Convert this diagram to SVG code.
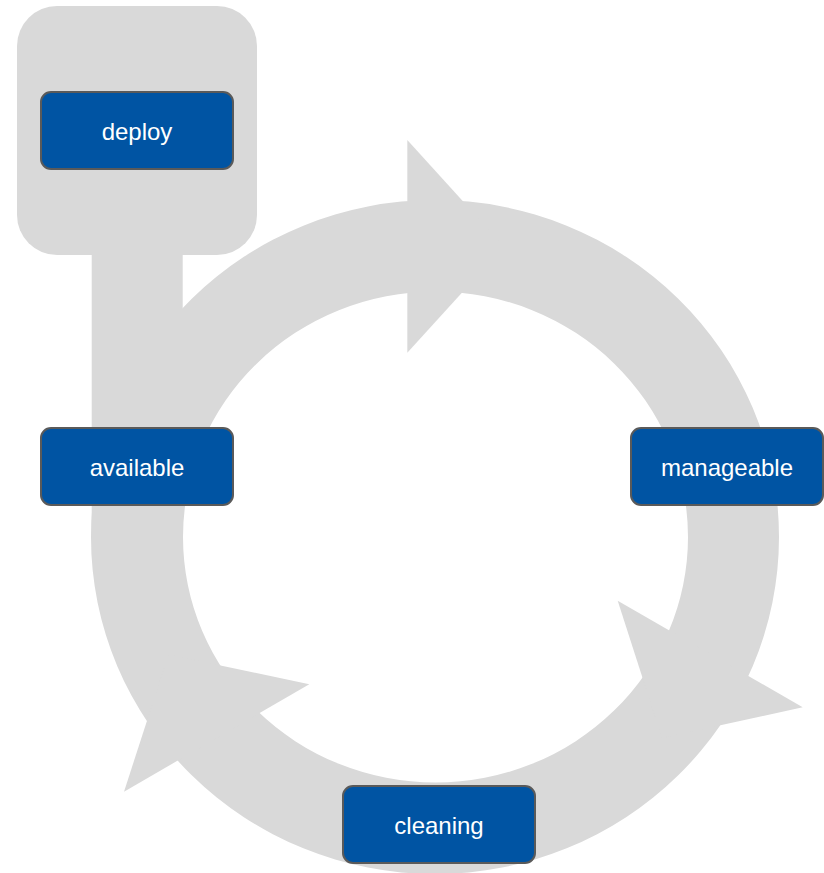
<svg xmlns="http://www.w3.org/2000/svg" width="824" height="873" viewBox="0 0 824 873">
  <style>
    .bg { fill: #d9d9d9; }
    .node rect { fill: #0054a3; stroke: #5a5a5a; stroke-width: 2; }
    .node text { fill: #ffffff; font-family: "Liberation Sans", Arial, sans-serif; font-size: 24px; text-anchor: middle; }
  </style>
  <g id="connectors">
    <path class="bg" fill-rule="evenodd" d="M91,537 A344,337 0 1 0 779,537 A344,337 0 1 0 91,537 Z M183,537 A252.5,245.5 0 1 1 688,537 A252.5,245.5 0 1 1 183,537 Z"/>
    <rect class="bg" x="17" y="6" width="240" height="249" rx="40" ry="40"/>
    <rect class="bg" x="91.7" y="240" width="91" height="300"/>
    <polygon class="bg" points="407.3,140 504,246.5 407.3,352.7"/>
    <polygon class="bg" points="617.7,600.7 802.7,707.3 661.9,738.1"/>
    <polygon class="bg" points="309.3,684.3 124,791.7 168.5,654.4"/>
  </g>
  <g id="deploy" class="node">
    <rect x="41" y="92" width="192" height="77" rx="10" ry="10"/>
    <text x="137" y="139.5">deploy</text>
  </g>
  <g id="available" class="node">
    <rect x="41" y="428" width="192" height="77" rx="10" ry="10"/>
    <text x="137" y="475.5">available</text>
  </g>
  <g id="manageable" class="node">
    <rect x="631" y="428" width="192" height="77" rx="10" ry="10"/>
    <text x="727" y="475.5">manageable</text>
  </g>
  <g id="cleaning" class="node">
    <rect x="343" y="786" width="192" height="77" rx="10" ry="10"/>
    <text x="439" y="834">cleaning</text>
  </g>
</svg>
